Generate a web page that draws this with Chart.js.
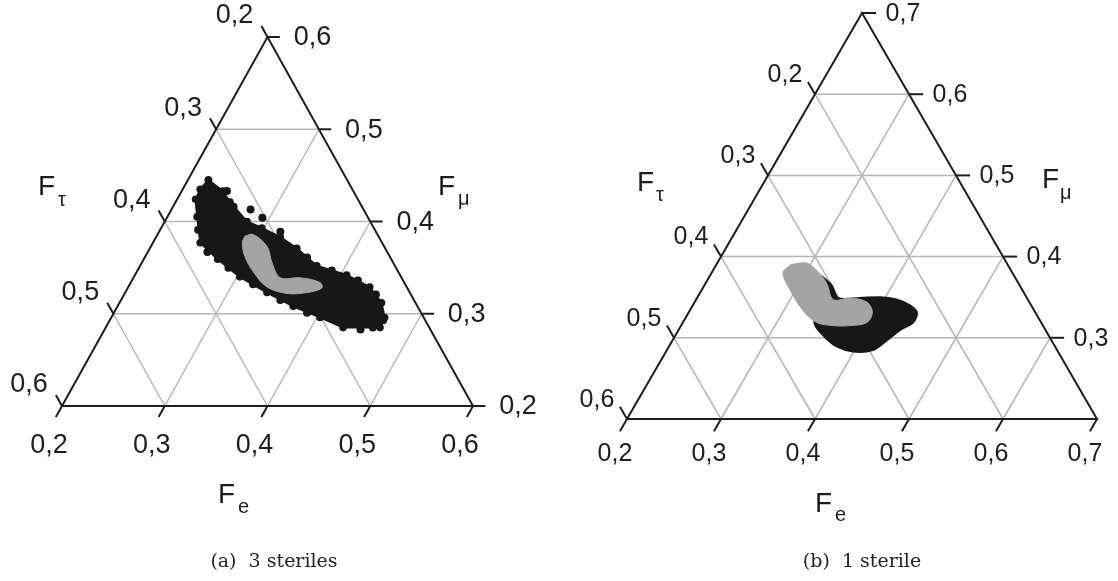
<!DOCTYPE html>
<html>
<head>
<meta charset="utf-8">
<script src="https://cdn.jsdelivr.net/npm/chart.js@4.4.1/dist/chart.umd.min.js"></script>
<style>
    body { margin: 0; background: #fff; width: 1118px; height: 581px; position: relative; overflow: hidden; }
    canvas { position: absolute; top: 0; }
    #chartA { left: 0; }
    #chartB { left: 559px; }
    .caption { position: absolute; top: 549px; font-family: "DejaVu Serif", serif; font-size: 19px; color: #222; transform: translateX(-50%); white-space: pre; }
</style>
</head>
<body>
<canvas id="chartA" width="559" height="581"></canvas>
<canvas id="chartB" width="559" height="581"></canvas>
<div class="caption" style="left:274px">(a)  3 steriles</div>
<div class="caption" style="left:862px">(b)  1 sterile</div>

<script>
// ---- tick values (ternary fractions) ----
const feTicksA = [0.2, 0.3, 0.4, 0.5, 0.6];
const fmuTicksA = [0.2, 0.3, 0.4, 0.5, 0.6];
const ftauTicksA = [0.2, 0.3, 0.4, 0.5, 0.6];

const feTicksB = [0.2, 0.3, 0.4, 0.5, 0.6, 0.7];
const fmuTicksB = [0.3, 0.4, 0.5, 0.6, 0.7];
const ftauTicksB = [0.2, 0.3, 0.4, 0.5, 0.6];

// ---- (a) 3 steriles: black cloud outline, single dots, grey region (Fe, Fmu; Ftau = 1 - Fe - Fmu) ----
const blackA_fe  = [0.220, 0.240, 0.253, 0.280, 0.298, 0.321, 0.343, 0.372, 0.406, 0.435, 0.455, 0.466, 0.467, 0.431, 0.403, 0.371, 0.338, 0.303, 0.272, 0.246, 0.229, 0.218, 0.217];
const blackA_fmu = [0.445, 0.433, 0.421, 0.400, 0.393, 0.383, 0.371, 0.352, 0.342, 0.329, 0.312, 0.296, 0.285, 0.285, 0.296, 0.308, 0.323, 0.340, 0.359, 0.377, 0.405, 0.424, 0.435];

const dotsA_fe  = [0.244, 0.259, 0.277, 0.293, 0.318, 0.358, 0.389, 0.420, 0.445, 0.466, 0.460, 0.449, 0.388, 0.355, 0.320, 0.287, 0.258, 0.237];
const dotsA_fmu = [0.433, 0.416, 0.413, 0.404, 0.389, 0.361, 0.347, 0.336, 0.321, 0.293, 0.285, 0.283, 0.301, 0.315, 0.332, 0.350, 0.367, 0.391];

const grayA_fe  = [0.286, 0.293, 0.313, 0.327, 0.343, 0.362, 0.384, 0.389, 0.377, 0.358, 0.335, 0.314, 0.297, 0.287];
const grayA_fmu = [0.384, 0.386, 0.373, 0.355, 0.339, 0.339, 0.334, 0.328, 0.323, 0.322, 0.329, 0.345, 0.362, 0.377];

// ---- (b) 1 sterile ----
const blackB_fe  = [0.319, 0.336, 0.350, 0.373, 0.394, 0.414, 0.431, 0.443, 0.445, 0.436, 0.428, 0.419, 0.399, 0.379, 0.360, 0.342, 0.330];
const blackB_fmu = [0.376, 0.364, 0.349, 0.349, 0.350, 0.347, 0.340, 0.331, 0.319, 0.310, 0.297, 0.285, 0.283, 0.289, 0.301, 0.316, 0.340];

const grayB_fe  = [0.279, 0.295, 0.313, 0.329, 0.346, 0.363, 0.383, 0.395, 0.396, 0.380, 0.362, 0.342, 0.320, 0.294, 0.276];
const grayB_fmu = [0.390, 0.392, 0.381, 0.367, 0.347, 0.349, 0.344, 0.332, 0.319, 0.315, 0.315, 0.319, 0.334, 0.359, 0.380];

const BLACK = '#171717';
const GREY = '#a4a4a4';
const GRID = '#b6b6b6';
const AXIS = '#1e1e1e';

const panelA = {
    eMin: 0.2, mMin: 0.2, tMin: 0.2, span: 0.4,
    feTicks: feTicksA, fmuTicks: fmuTicksA, ftauTicks: ftauTicksA,
    fontSize: 27,
    offBottom: [-13, 40], offLeft: [-33, -21], offRight: [45, 1],
    padding: { left: 62, right: 86, top: 37, bottom: 175 },
    titles: [
        { x: 38, y: 195, sub: 'τ', sx: 58, sy: 206 },
        { x: 438, y: 195, sub: 'μ', sx: 458, sy: 205 },
        { x: 218, y: 503, sub: 'e', sx: 238, sy: 513 }
    ]
};

const panelB = {
    eMin: 0.2, mMin: 0.2, tMin: 0.1, span: 0.5,
    feTicks: feTicksB, fmuTicks: fmuTicksB, ftauTicks: ftauTicksB,
    fontSize: 25,
    offBottom: [-12, 35], offLeft: [-30, -19], offRight: [41, 1],
    padding: { left: 68, right: 21, top: 13, bottom: 162 },
    titles: [
        { x: 78, y: 191, sub: 'τ', sx: 97, sy: 201 },
        { x: 483, y: 188, sub: 'μ', sx: 501, sy: 199 },
        { x: 256, y: 512, sub: 'e', sx: 276, sy: 521 }
    ]
};

// ternary (Fe, Fmu) -> cartesian units of the triangle (0..1)
function toXY(p, fe, fmu) {
    const u = (fe - p.eMin) / p.span;
    const v = (fmu - p.mMin) / p.span;
    return { x: u + v / 2, y: v };
}

function pts(p, feArr, fmuArr, close) {
    const out = feArr.map((fe, i) => toXY(p, fe, fmuArr[i]));
    if (close) out.push(out[0]);
    return out;
}

function inner(p, vals, min) {
    return vals.filter(t => t > min + 1e-6 && t < min + p.span - 1e-6);
}

function gridSegments(p) {
    const segs = [];
    inner(p, p.feTicks, p.eMin).forEach(e => segs.push([toXY(p, e, p.mMin), toXY(p, e, 1 - e - p.tMin)]));
    inner(p, p.fmuTicks, p.mMin).forEach(m => segs.push([toXY(p, p.eMin, m), toXY(p, 1 - m - p.tMin, m)]));
    inner(p, p.ftauTicks, p.tMin).forEach(t => segs.push([toXY(p, p.eMin, 1 - t - p.eMin), toXY(p, 1 - t - p.mMin, p.mMin)]));
    return segs;
}

function tickMarks(p) {
    const L = p.span * 0.03;
    const list = [];
    p.feTicks.forEach(e => list.push({ off: p.offBottom, v: e, a: toXY(p, e, p.mMin), b: toXY(p, e, p.mMin - L) }));
    p.ftauTicks.forEach(t => {
        const m = 1 - t - p.eMin;
        list.push({ off: p.offLeft, v: t, a: toXY(p, p.eMin, m), b: toXY(p, p.eMin - L, m + L) });
    });
    p.fmuTicks.forEach(m => {
        const e = 1 - m - p.tMin;
        list.push({ off: p.offRight, v: m, a: toXY(p, e, m), b: toXY(p, e + L, m) });
    });
    return list;
}

function lineSet(data, color, width, order) {
    return {
        data: data, borderColor: color, borderWidth: width, pointRadius: 0,
        fill: false, tension: 0, order: order, clip: false,
        borderCapStyle: 'butt', borderJoinStyle: 'miter'
    };
}

function labelPlugin(p, marks) {
    return {
        id: 'ternaryLabels',
        afterDatasetsDraw(chart) {
            const ctx = chart.ctx;
            const sx = chart.scales.x, sy = chart.scales.y;
            ctx.save();
            ctx.fillStyle = '#1e1e1e';
            ctx.font = p.fontSize + 'px "Liberation Sans", Arial, sans-serif';
            ctx.textAlign = 'center';
            ctx.textBaseline = 'middle';
            marks.forEach(m => {
                const x = sx.getPixelForValue(m.a.x) + m.off[0];
                const y = sy.getPixelForValue(m.a.y) + m.off[1];
                ctx.fillText(m.v.toFixed(1).replace('.', ','), x, y);
            });
            ctx.textAlign = 'left';
            ctx.textBaseline = 'alphabetic';
            p.titles.forEach(t => {
                ctx.font = '28px "Liberation Sans", Arial, sans-serif';
                ctx.fillText('F', t.x, t.y);
                ctx.font = '20px "Liberation Sans", Arial, sans-serif';
                ctx.fillText(t.sub, t.sx, t.sy);
            });
            ctx.restore();
        }
    };
}

function makeChart(canvasId, p, regions) {
    const marks = tickMarks(p);
    const datasets = [];
    gridSegments(p).forEach(seg => datasets.push(lineSet(seg, GRID, 1.5, 6)));
    const frame = [
        toXY(p, p.eMin, p.mMin),
        toXY(p, 1 - p.mMin - p.tMin, p.mMin),
        toXY(p, p.eMin, 1 - p.eMin - p.tMin)
    ];
    frame.push(frame[0]);
    datasets.push(lineSet(frame, AXIS, 2, 4));
    marks.forEach(m => datasets.push(lineSet([m.a, m.b], AXIS, 2, 4)));
    regions.forEach(r => datasets.push(r));

    return new Chart(document.getElementById(canvasId), {
        type: 'line',
        data: { datasets: datasets },
        options: {
            responsive: false,
            animation: false,
            events: [],
            layout: { padding: p.padding },
            plugins: { legend: { display: false }, tooltip: { enabled: false } },
            scales: {
                x: { type: 'linear', min: 0, max: 1, display: false },
                y: { type: 'linear', min: 0, max: 1, display: false }
            }
        },
        plugins: [labelPlugin(p, marks)]
    });
}

makeChart('chartA', panelA, [
    {
        data: pts(panelA, grayA_fe, grayA_fmu, true),
        borderColor: GREY, backgroundColor: GREY, borderWidth: 1,
        fill: 'shape', tension: 0.35, pointRadius: 0, order: 0
    },
    {
        data: pts(panelA, dotsA_fe, dotsA_fmu, false),
        showLine: false, pointRadius: 4, pointBackgroundColor: BLACK, pointBorderWidth: 0, order: 1
    },
    {
        data: pts(panelA, blackA_fe, blackA_fmu, true),
        borderColor: BLACK, backgroundColor: BLACK, borderWidth: 2,
        fill: 'shape', tension: 0, pointRadius: 3.8, pointBackgroundColor: BLACK, pointBorderWidth: 0, order: 2
    }
]);

makeChart('chartB', panelB, [
    {
        data: pts(panelB, grayB_fe, grayB_fmu, true),
        borderColor: GREY, backgroundColor: GREY, borderWidth: 1,
        fill: 'shape', tension: 0.35, pointRadius: 0, order: 0
    },
    {
        data: pts(panelB, blackB_fe, blackB_fmu, true),
        borderColor: BLACK, backgroundColor: BLACK, borderWidth: 2,
        fill: 'shape', tension: 0.3, pointRadius: 0, order: 2
    }
]);
</script>
</body>
</html>
